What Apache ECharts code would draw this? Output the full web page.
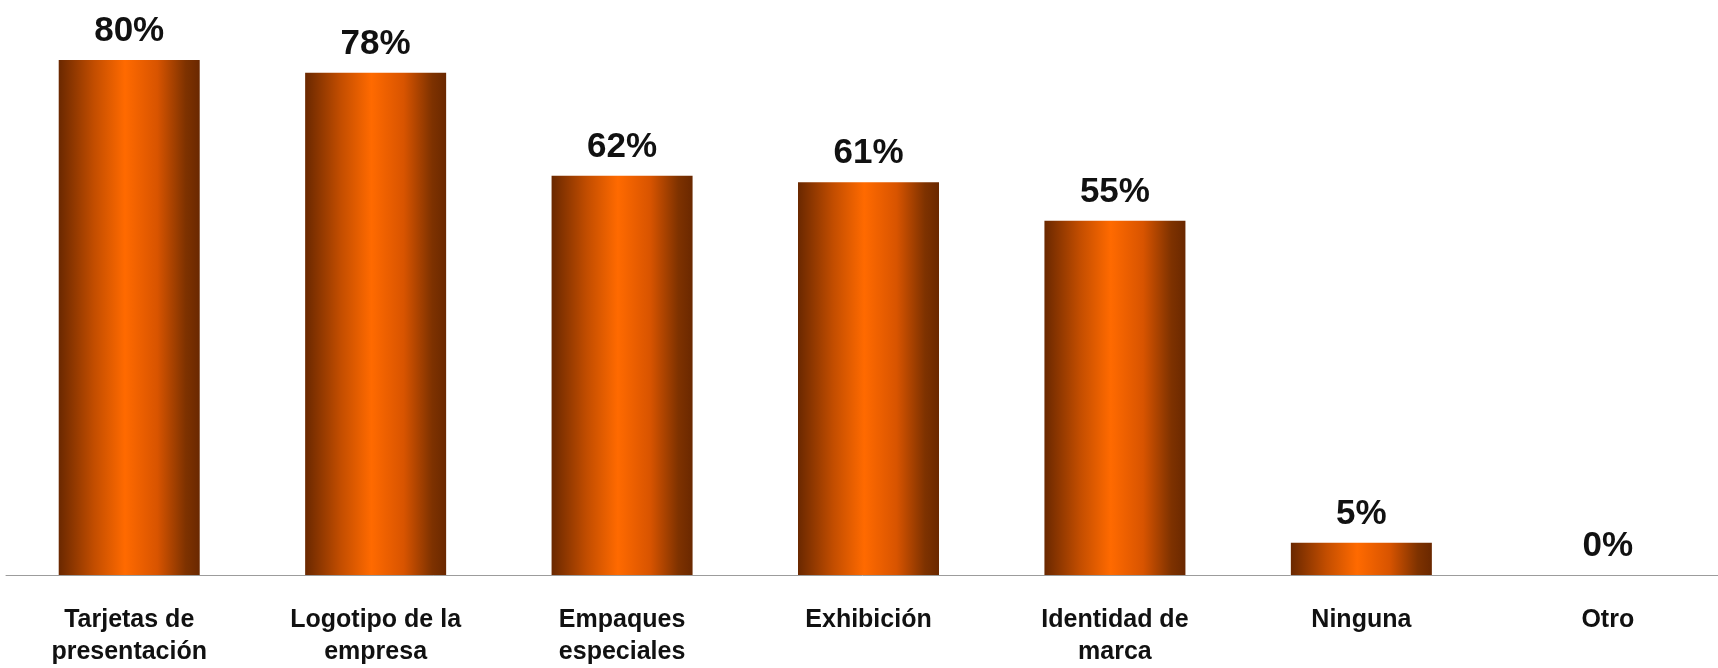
<!DOCTYPE html>
<html>
<head>
<meta charset="utf-8">
<script src="https://cdn.jsdelivr.net/npm/echarts@6/dist/echarts.min.js"></script>
<style>
html, body { margin: 0; padding: 0; background: #fff; }
#chart { width: 1718px; height: 668px; }
</style>
</head>
<body>
<div id="chart"></div>
<script>
// categorias y porcentajes
var categorias = ["Tarjetas de\npresentación", "Logotipo de la\nempresa", "Empaques\nespeciales", "Exhibición", "Identidad de\nmarca", "Ninguna", "Otro"]
var porcentajes = [80, 78, 62, 61, 55, 5, 0]

var barColor = new echarts.graphic.LinearGradient(0, 0, 1, 0, [
	{offset: 0, color: '#6a2800'},
	{offset: 0.25, color: '#c24d00'},
	{offset: 0.47, color: '#ff6a00'},
	{offset: 0.7, color: '#d85400'},
	{offset: 0.9, color: '#7e3200'},
	{offset: 1, color: '#6a2800'}
])

var option = {
	animation: false,
	grid: {
		left: 6,
		top: 0,
		bottom: 93,
		width: 1725,
		outerBoundsMode: 'none',
		containLabel: false
	},
	xAxis: {
		type: 'category',
		data: categorias,
		axisTick: { show: false },
		axisLine: { lineStyle: { color: '#9c9c9c', width: 1 } },
		axisLabel: {
			interval: 0,
			margin: 29,
			fontFamily: 'Liberation Sans, Arial',
			fontWeight: 'bold',
			fontSize: 25,
			lineHeight: 32,
			color: '#111'
		}
	},
	yAxis: {
		type: 'value',
		min: 0,
		max: 89.3,
		show: false
	},
	series: [{
		type: 'bar',
		data: porcentajes,
		barWidth: 141,
		itemStyle: { color: barColor },
		label: {
			show: true,
			position: 'top',
			distance: 11,
			formatter: '{c}%',
			fontFamily: 'Liberation Sans, Arial',
			fontWeight: 'bold',
			fontSize: 35,
			color: '#111'
		}
	}]
}

var myChart = echarts.init(document.getElementById('chart'))
myChart.setOption(option)
</script>
</body>
</html>
